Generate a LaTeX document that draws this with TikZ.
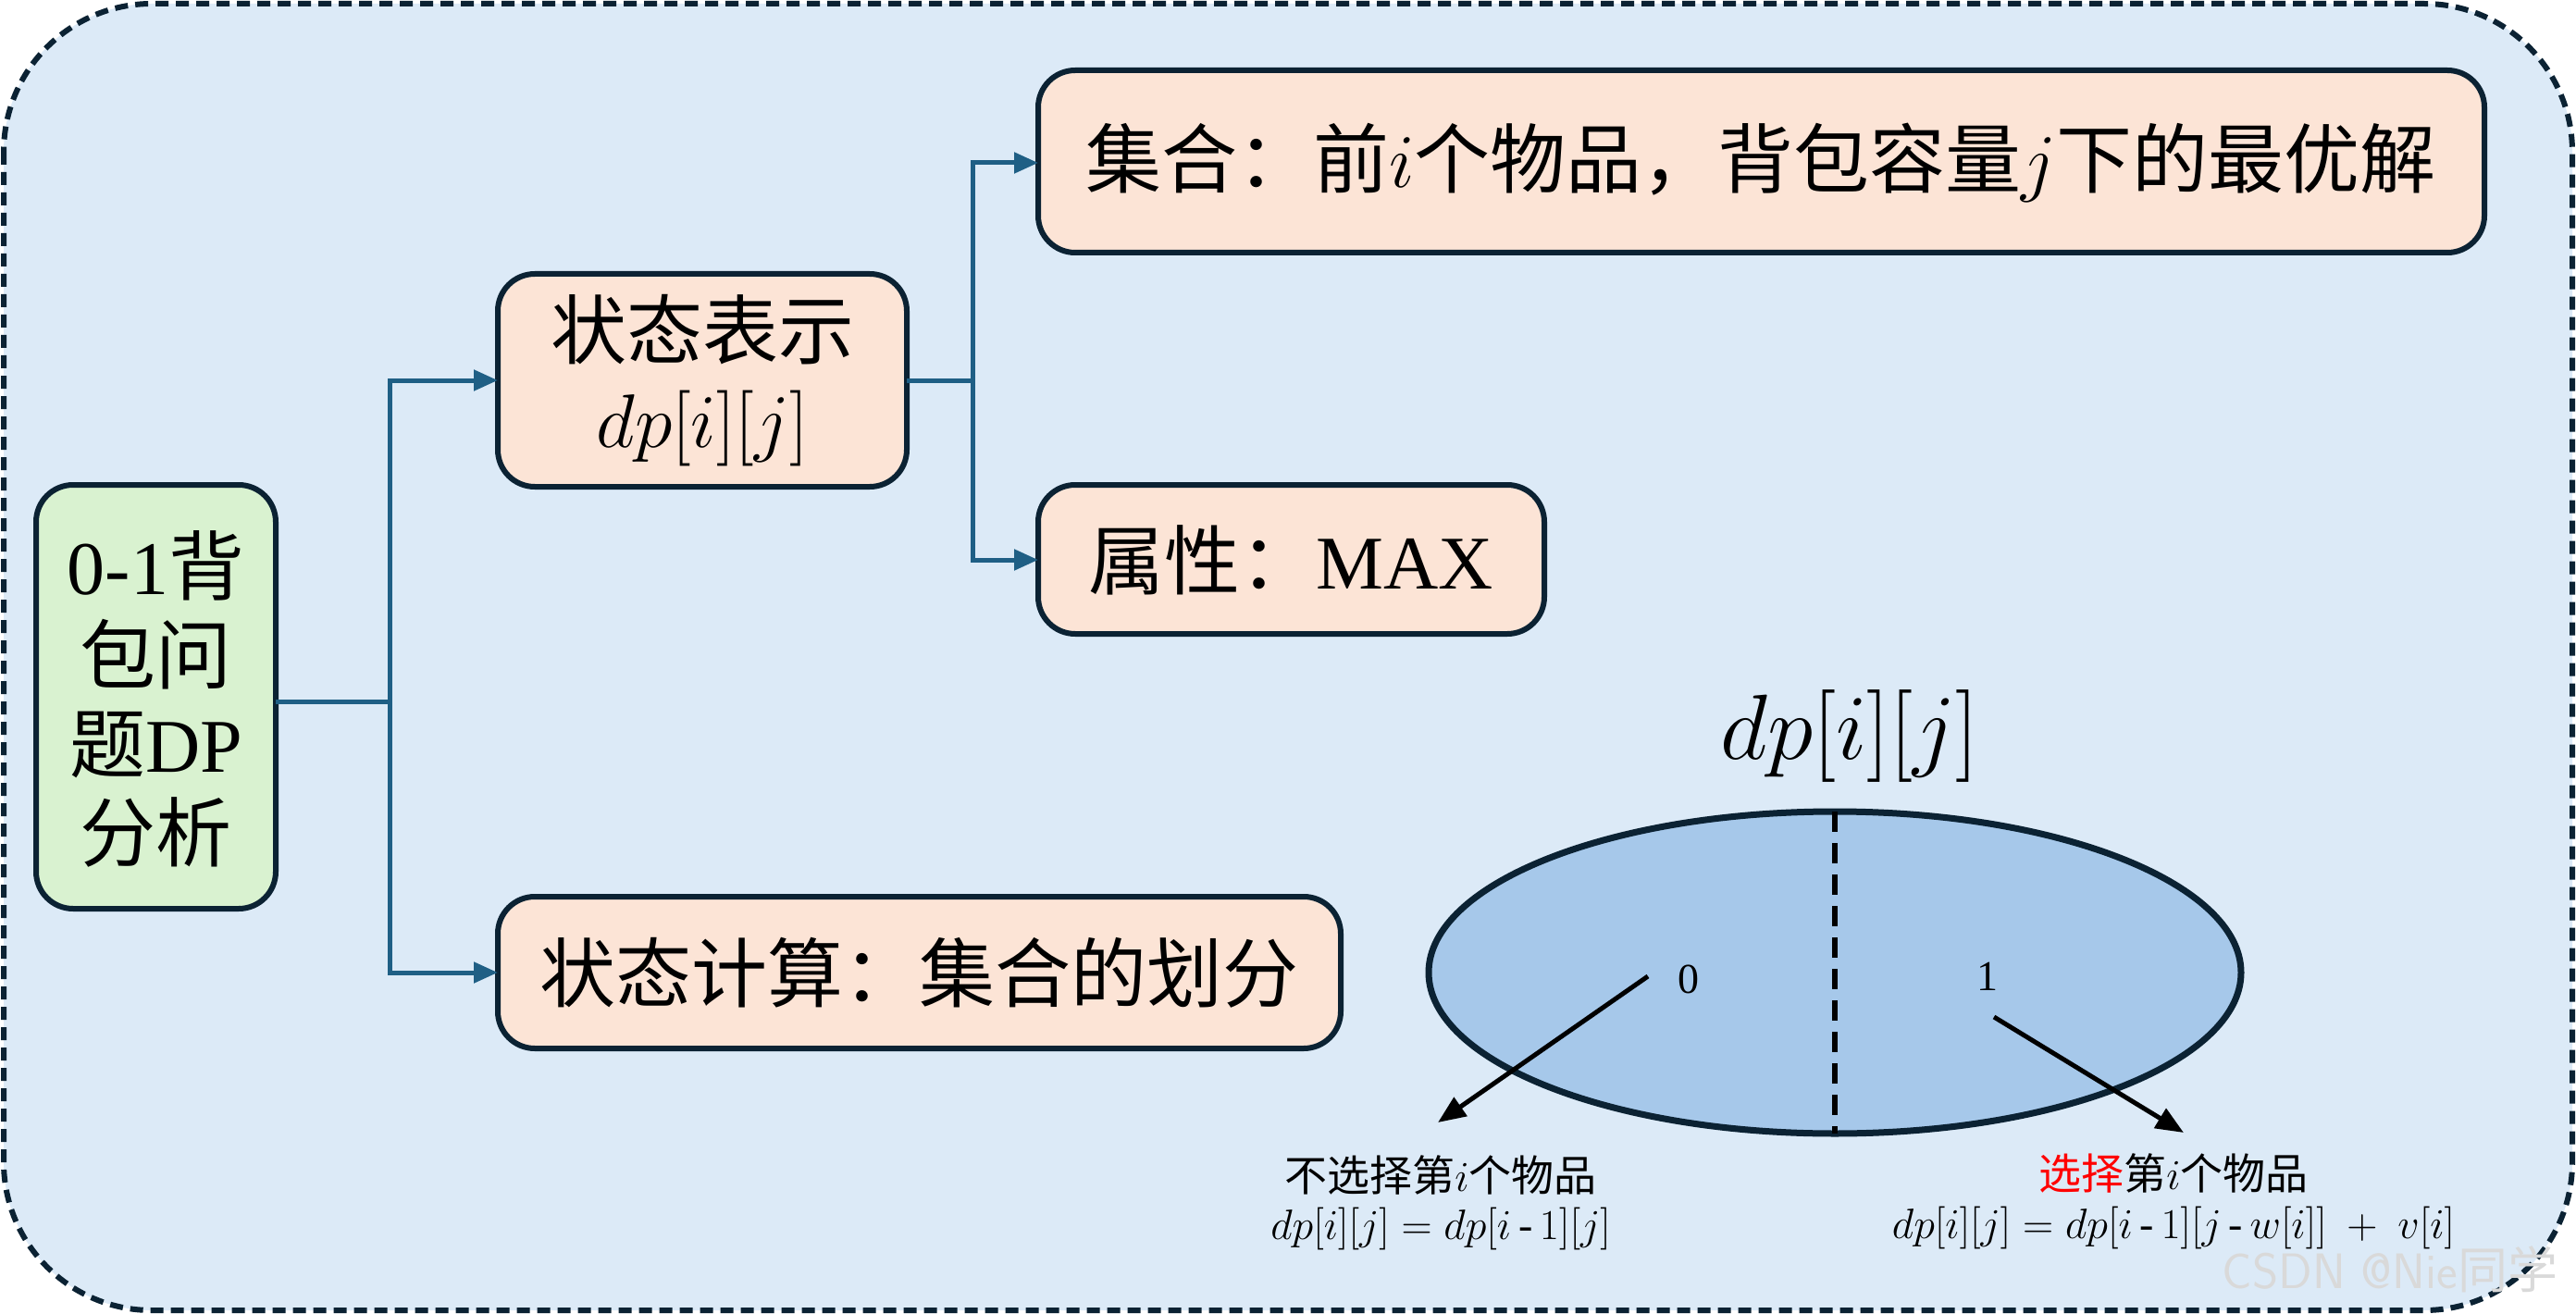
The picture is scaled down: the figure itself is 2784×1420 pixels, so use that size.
\documentclass[tikz,border=0pt]{standalone}
\usepackage{fix-cm}
\usepackage{fontspec}
\setmainfont{Liberation Serif}
\newfontfamily\cjk{Noto Sans CJK SC}
\usetikzlibrary{arrows.meta}
\definecolor{frame}{HTML}{0B2233}
\definecolor{bg}{HTML}{DCEAF7}
\definecolor{peach}{HTML}{FCE4D6}
\definecolor{mint}{HTML}{D9F2D0}
\definecolor{conn}{HTML}{1F5F85}
\definecolor{ell}{HTML}{A6C8EA}
\tikzset{
 boxs/.style={draw=frame,line width=6pt,rounded corners=40pt,fill=peach,inner sep=0pt},
 big/.style={font=\fontsize{82}{96}\selectfont},
 small/.style={font=\fontsize{46}{54}\selectfont},
 cn/.style={draw=conn,line width=5pt},
 ca/.style={cn,-{Triangle[length=26pt,width=22pt]}},
 ba/.style={draw=black,line width=5pt,-{Triangle[length=30pt,width=24pt]}}
}
\begin{document}
\begin{tikzpicture}[x=1pt,y=-1pt]
\useasboundingbox (0,0) rectangle (2784,1420);
\draw[frame,fill=bg,line width=6pt,dash pattern=on 14pt off 8pt,rounded corners=160pt] (4,4) rectangle (2780,1416);
% boxes
\draw[boxs,fill=mint] (39,524) rectangle (298,982);
\node[big,align=center] (g) at (168.5,755) {0-1{\cjk 背}\\{\cjk 包问}\\{\cjk 题}DP\\{\cjk 分析}};
\coordinate (gr) at (298,758);
\draw[boxs] (538,296) rectangle (980,526);
\node[big,align=center] (s) at (759,411) {{\cjk 状态表示}\\$dp[i][j]$};
\coordinate (sl) at (538,411); \coordinate (sr) at (980,411);
\draw[boxs] (1122,76) rectangle (2685,273);
\node[big] (a) at (1903,176) {{\cjk 集合：前}$i${\cjk 个物品，背包容量}$j${\cjk 下的最优解}};
\coordinate (al) at (1122,176);
\draw[boxs] (1122,524) rectangle (1669,685);
\node[big] (b) at (1395,605) {{\cjk 属性：}MAX};
\coordinate (bl) at (1122,605);
\draw[boxs] (538,969) rectangle (1449,1133);
\node[big] (c) at (993,1051) {{\cjk 状态计算：集合的划分}};
\coordinate (cl) at (538,1051);
% connectors
\coordinate (t1) at (421,758);
\draw[cn] (gr) -- (t1);
\draw[ca] (t1) |- (sl);
\draw[ca] (t1) |- (cl);
\coordinate (t2) at (1051,411);
\draw[cn] (sr) -- (t2);
\draw[ca] (t2) |- (al);
\draw[ca] (t2) |- (bl);
% ellipse
\draw[draw=frame,fill=ell,line width=7pt] (1983,1051) ellipse [x radius=439,y radius=174];
\coordinate (et) at (1983,877); \coordinate (eb) at (1983,1225);
\draw[black,line width=6pt,dash pattern=on 22pt off 12pt] (et) -- (eb);
\node[font=\fontsize{100}{110}\selectfont] (dp) at (1999,795) {$dp[i][j]$};
\node[small] (z) at (1825,1058) {0};
\node[small] (o) at (2148,1055) {1};
\coordinate (z1) at (1781,1055); \coordinate (z2) at (1554,1213);
\coordinate (o1) at (2155,1099); \coordinate (o2) at (2360,1224);
\draw[ba] (z1) -- (z2);
\draw[ba] (o1) -- (o2);
\node[small] (l1) at (1557,1270) {{\cjk 不选择第}$i${\cjk 个物品}};
\node[small] (l2) at (1557,1328) {$dp[i][j] = dp[i\,\mbox{-}\,1][j]$};
\node[small] (r1) at (2349,1268) {{\cjk\color{red}选择}{\cjk 第}$i${\cjk 个物品}};
\node[small] (r2) at (2349,1327) {$dp[i][j] = dp[i\,\mbox{-}\,1][j\,\mbox{-}\,w[i]]\ +\ v[i]$};
\node[font=\fontsize{54}{60}\selectfont\sffamily,text=black!15] (wm) at (2583,1372) {CSDN @Nie{\cjk 同学}};
\end{tikzpicture}
\end{document}
